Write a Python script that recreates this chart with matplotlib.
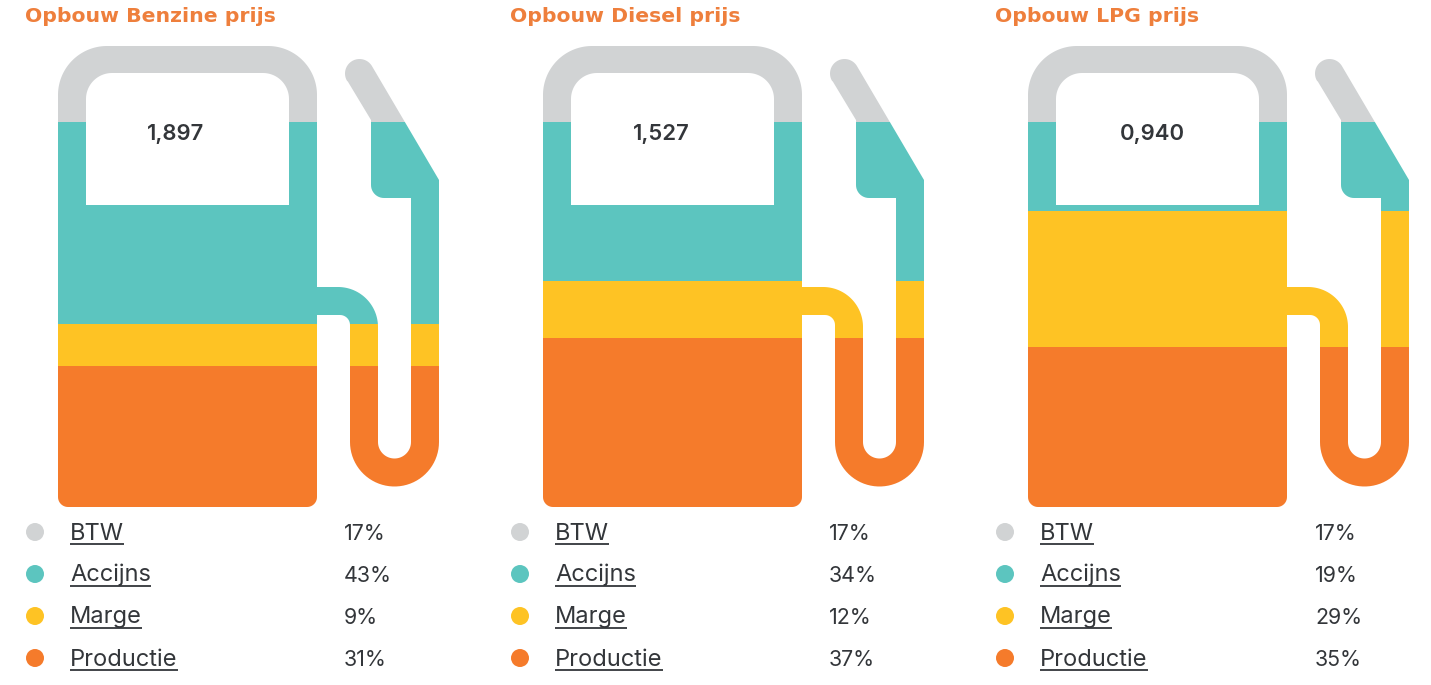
import numpy as np
import matplotlib
matplotlib.use("Agg")
import matplotlib.pyplot as plt
from matplotlib.path import Path
from matplotlib.transforms import Affine2D
from matplotlib.patches import Circle

# ---- data ----
titles = ["Opbouw Benzine prijs", "Opbouw Diesel prijs", "Opbouw LPG prijs"]
prices = ["1,897", "1,527", "0,940"]
categories = ["BTW", "Accijns", "Marge", "Productie"]
labels_benzine = ["17%", "43%", "9%", "31%"]
labels_diesel = ["17%", "34%", "12%", "37%"]
labels_lpg = ["17%", "19%", "29%", "35%"]
# band heights (% of pump height), same order as categories
bands_benzine = [16.5, 43.8, 9.1, 30.6]
bands_diesel = [16.5, 34.5, 12.4, 36.6]
bands_lpg = [16.5, 19.3, 29.5, 34.7]
colors = ["#D1D3D4", "#5CC5BF", "#FEC324", "#F57B2B"]
title_color = "#EE7F3C"
text_color = "#33363A"
FONT = "Inter"

W, H = 1431, 685
fig = plt.figure(figsize=(W / 100, H / 100), dpi=100, facecolor="white")
page = fig.add_axes([0, 0, 1, 1])
page.set_xlim(0, W)
page.set_ylim(H, 0)
page.axis("off")


def arc(cx, cy, r, a0, a1, n=40):
    """Arc in pixel coordinates (y down); angles in degrees."""
    t = np.radians(np.linspace(a0, a1, n))
    return np.column_stack([cx + r * np.cos(t), cy + r * np.sin(t)])


def oriented(pts, positive=True):
    x, y = pts[:, 0], pts[:, 1]
    area = np.sum(x * np.roll(y, -1) - np.roll(x, -1) * y)
    return pts if (area > 0) == positive else pts[::-1]


def pump_outline():
    """Silhouette in page pixels of the first pump."""
    R, r = 49, 10
    body = np.vstack([
        arc(58 + R, 46 + R, R, 180, 270),
        arc(317 - R, 46 + R, R, 270, 360),
        arc(317 - r, 507 - r, r, 0, 90, 12),
        arc(58 + r, 507 - r, r, 90, 180, 12),
    ])
    q = 26
    window = np.vstack([
        arc(86 + q, 73 + q, q, 180, 270),
        arc(289 - q, 73 + q, q, 270, 360),
        [[289, 205], [86, 205]],
    ])
    hose = np.vstack([
        [[310, 287], [338, 287]],
        arc(338, 327, 40, -90, 0),      # outer elbow
        [[378, 442]],
        arc(394.5, 442, 16.5, 180, 0),  # inner U
        [[411, 198], [384, 198]],
        arc(384, 185, 13, 90, 180, 12),
        [[371, 120]],
        [[347.5, 81]],
        arc(359.5, 73.5, 14.5, 147, 327, 24),
        [[439, 180], [439, 442]],
        arc(394.5, 442, 44.5, 0, 180),  # outer U
        [[350, 325]],
        arc(340, 325, 10, 0, -90, 12),  # inner elbow
        [[310, 315]],
    ])
    parts = [oriented(body, True), oriented(window, False), oriented(hose, True)]
    verts, codes = [], []
    for p in parts:
        verts.extend(p.tolist() + [p[0].tolist()])
        codes.extend([Path.MOVETO] + [Path.LINETO] * (len(p) - 1) + [Path.CLOSEPOLY])
    return Path(np.array(verts), codes)


outline = pump_outline()
TOP, BOTTOM = 46, 507


def draw_pump(dx, title, price, price_x, bands, labels, label_x):
    ax = fig.add_axes([(58 + dx) / W, (H - BOTTOM) / H, 381 / W, (BOTTOM - TOP) / H])
    ax.set_xlim(58, 439)
    ax.set_ylim(0, 100)
    ax.axis("off")
    # outline pixels -> axis data (y in % of pump height, measured from the bottom)
    to_data = Affine2D().translate(0, -BOTTOM).scale(1, -100 / (BOTTOM - TOP))
    clip_tf = to_data + ax.transData
    bottom = 0
    for cat, val, col in zip(categories[::-1], bands[::-1], colors[::-1]):
        bars = ax.bar(248.5, val, width=381, bottom=bottom, color=col, linewidth=0, label=cat)
        for b in bars:
            b.set_clip_path(outline, clip_tf)
        bottom += val

    page.text(25 + dx, 16, title, color=title_color, fontsize=14.7, fontweight="bold",
              family="DejaVu Sans", ha="left", va="center")
    page.text(price_x, 133.5, price, color=text_color, fontsize=15.9, fontweight="semibold",
              family=FONT, ha="center", va="center")
    renderer = fig.canvas.get_renderer()
    for i, (cat, lab, col) in enumerate(zip(categories, labels, colors)):
        y = 532 + 42 * i
        page.add_patch(Circle((35 + dx, y), 9, color=col, lw=0))
        t = page.text(70 + dx, y + 7.5, cat, color=text_color, fontsize=17.0, family=FONT,
                      ha="left", va="baseline")
        ext = t.get_window_extent(renderer)
        page.plot([ext.x0, ext.x1], [y + 11.5, y + 11.5], color=text_color, lw=1.3,
                  solid_capstyle="butt")
        page.text(label_x, y + 7.5, lab, color=text_color, fontsize=15.4, family=FONT,
                  ha="left", va="baseline")


draw_pump(0, titles[0], prices[0], 176, bands_benzine, labels_benzine, 344)
draw_pump(485, titles[1], prices[1], 661, bands_diesel, labels_diesel, 829)
draw_pump(970, titles[2], prices[2], 1152, bands_lpg, labels_lpg, 1315)

fig.savefig("out.png", dpi=100, facecolor="white")
